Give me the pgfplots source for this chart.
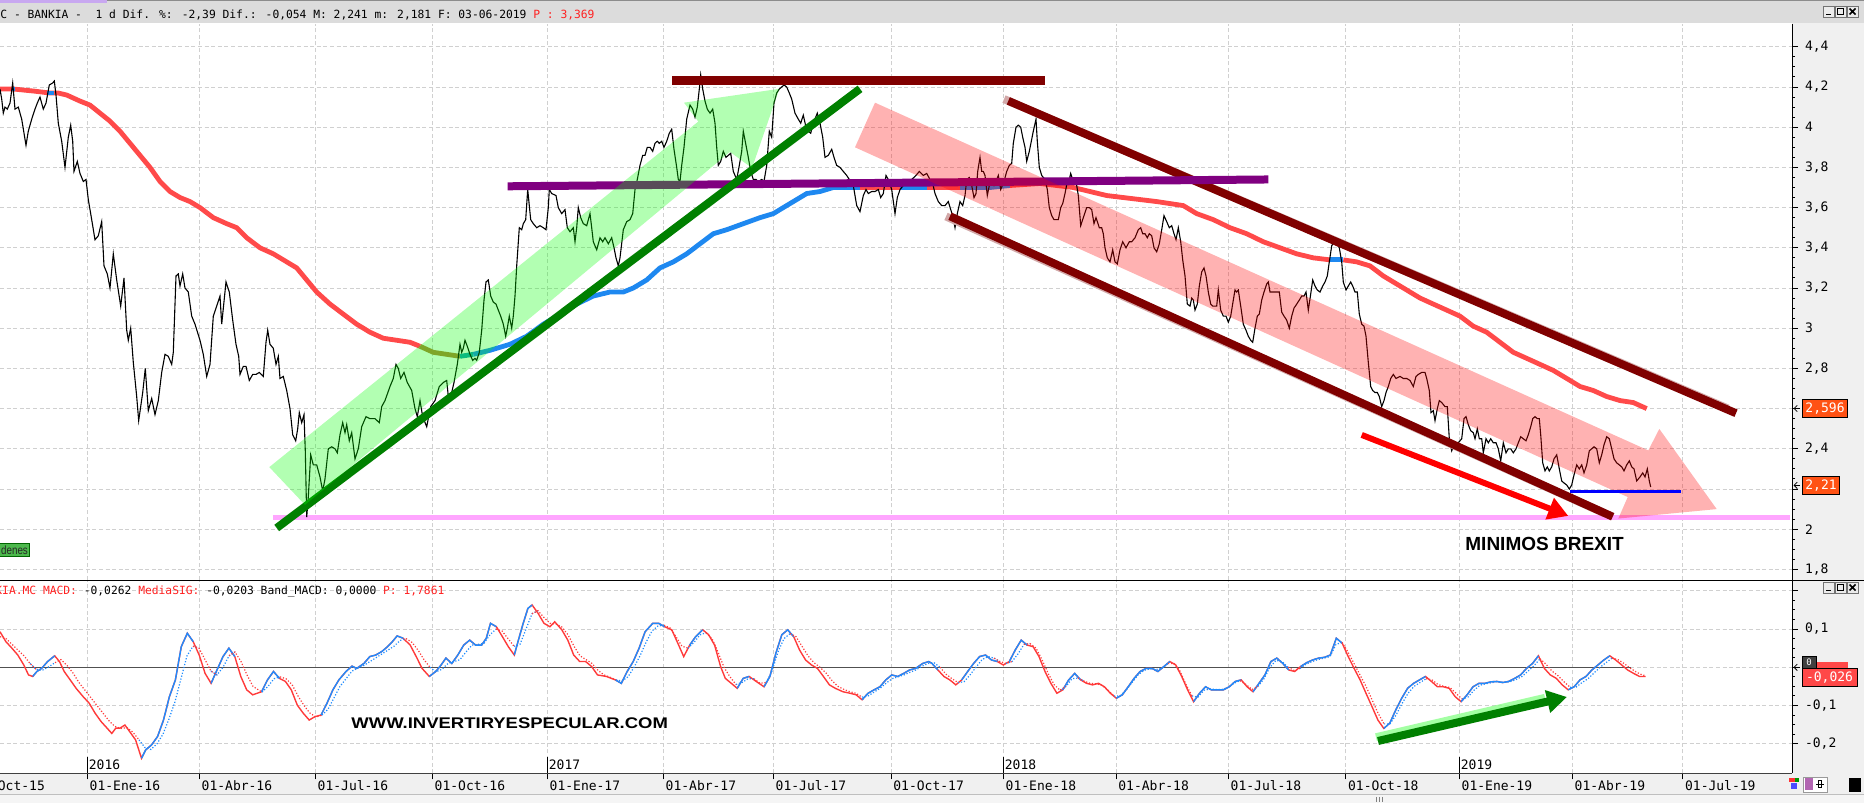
\documentclass[border=0pt]{standalone}
\usepackage{graphicx}
\usepackage{fontspec}
\setmainfont{Liberation Sans}
\newfontfamily\monof{DejaVu Sans Mono}
\usepackage{pgfplots}
\usepackage{pgfplotstable}
\pgfplotsset{compat=1.18}
\usetikzlibrary{arrows.meta}

\definecolor{gridc}{HTML}{D0D0D0}
\definecolor{panelgray}{HTML}{F0F0F0}
\definecolor{headgray}{HTML}{DCDCDC}
\definecolor{mared}{HTML}{FF4A4A}
\definecolor{mablue}{HTML}{1E88F0}
\definecolor{mabrown}{HTML}{B5803A}
\definecolor{mateal}{HTML}{12A0B4}
\definecolor{maroonc}{HTML}{800000}
\definecolor{maroonsh}{HTML}{D2A8A8}
\definecolor{purplec}{HTML}{800080}
\definecolor{darkgreen}{HTML}{008000}
\definecolor{pinkline}{HTML}{FFA6FF}
\definecolor{tagorange}{HTML}{FF5214}
\definecolor{tagred}{HTML}{FF4848}
\definecolor{macdred}{HTML}{FF3A3A}
\definecolor{macdblue}{HTML}{1E8CFF}
\definecolor{hdrred}{HTML}{FF2020}
\definecolor{lav}{HTML}{C8A8F0}
\definecolor{lblgreen}{HTML}{4CB84C}
\definecolor{zeroc}{HTML}{505050}

\newcommand\tickfont{\monof\fontsize{6.5pt}{7pt}\selectfont}
\newcommand\hdrfont{\monof\fontsize{5.65pt}{6.5pt}\selectfont}

% BANKIA close price (x = horizontal position on the chart's time scale)
\pgfplotstableread{
x y
0 4.19
1.7 4.14
3.3 4.07
5 4.10
7.3 4.09
10 4.12
12.7 4.22
15 4.09
18.3 4.10
21.7 4.04
26 3.91
28.3 3.98
31.7 4.04
35 4.09
37.3 4.12
40 4.15
43.3 4.09
46 4.12
49.3 4.21
52.7 4.22
54.3 4.23
56 4.16
58.3 4.02
61.7 3.93
65 3.80
68.3 3.95
70.7 4.01
72.7 3.93
74 3.78
77.3 3.83
80 3.77
83.3 3.73
86 3.74
88.3 3.64
91.7 3.54
95 3.44
98.3 3.46
101.7 3.53
104 3.31
107.3 3.27
110 3.20
113.3 3.37
116.7 3.24
120.7 3.11
124 3.25
126.7 2.99
128.3 2.94
130.7 3.00
133.3 2.83
136.7 2.66
138.7 2.54
142.7 2.68
145.3 2.80
148.3 2.59
151.7 2.65
155 2.57
158.3 2.64
161.7 2.78
165 2.87
168.3 2.86
171.7 2.82
173.3 2.88
176 3.26
178.3 3.27
180 3.21
182.7 3.27
185 3.20
188.3 3.18
191.7 3.06
195 3.02
200 2.94
203.3 2.87
206.7 2.76
210 2.82
213.3 3.06
216.7 3.11
220 3.16
221.7 3.02
226 3.23
229.3 3.18
232.7 3.04
236 2.92
238.7 2.86
240 2.77
243.3 2.81
246 2.81
249.3 2.74
252.7 2.77
256 2.77
259.3 2.78
263.3 2.76
266 2.93
267.7 2.99
270 2.92
273.3 2.90
276 2.82
278.3 2.86
280 2.75
283.3 2.76
286.7 2.69
290 2.60
292.7 2.47
295.7 2.44
297.7 2.50
299.3 2.58
301.7 2.53
304 2.57
305.3 2.39
306.7 2.06
308.3 2.16
310.7 2.37
313.3 2.32
316.7 2.32
320 2.26
322.7 2.19
325 2.25
328.3 2.40
331.7 2.41
335 2.40
337.3 2.38
340 2.47
342.7 2.53
345 2.48
346.7 2.52
349.3 2.44
351.7 2.48
355 2.35
358.3 2.40
361.7 2.51
366 2.56
370 2.55
375 2.55
379.3 2.53
381.7 2.61
385 2.64
390 2.71
393.3 2.75
396 2.82
398.3 2.80
400.7 2.75
404 2.78
407.3 2.73
411.7 2.69
415 2.60
417.3 2.56
420 2.64
422.7 2.56
426.7 2.51
430.7 2.61
435 2.64
439.3 2.71
443.3 2.73
446.7 2.74
448.3 2.66
451.7 2.68
454 2.73
457.3 2.82
460 2.92
461.7 2.88
463.3 2.90
465 2.94
467.3 2.91
470 2.87
472.7 2.84
475 2.85
476.7 2.84
479.3 2.88
481.7 2.99
484 3.14
486 3.23
488.3 3.24
490.7 3.16
493.3 3.13
496 3.12
498.3 3.09
500.7 3.06
503.3 3.02
505.7 2.96
507.3 3.00
509.3 3.06
511.7 3.00
513.3 3.06
515 3.16
516.7 3.31
519.3 3.50
521.7 3.49
523.3 3.52
525.7 3.54
527.7 3.69
529.3 3.61
530.7 3.54
533.3 3.52
536.7 3.50
540 3.51
543.3 3.50
546 3.49
548.3 3.60
549.3 3.69
551.7 3.67
556 3.66
558.3 3.60
561.7 3.57
565 3.59
567.3 3.50
570 3.48
573.3 3.50
575 3.43
576.7 3.50
578.3 3.60
580.7 3.55
583.3 3.52
586.7 3.51
590 3.57
591.7 3.50
593.3 3.43
596.7 3.39
600 3.45
602.7 3.43
605 3.45
608.3 3.42
611.7 3.45
614 3.40
616 3.35
618.3 3.31
620 3.35
623.3 3.49
626.7 3.53
630 3.54
632.7 3.57
635 3.69
637.3 3.74
640 3.81
642.7 3.86
645 3.86
647.3 3.90
650 3.90
652.7 3.88
655 3.92
657.3 3.93
659.3 3.92
661.7 3.93
664 3.90
666.7 3.93
669.3 3.97
671.7 3.99
674 3.89
676.7 3.80
678.3 3.74
680 3.73
681.7 3.81
684 3.90
686.7 4.04
690 4.11
692.7 4.09
695 4.05
697.3 4.10
699.3 4.19
700.7 4.26
702.7 4.19
705 4.13
707.3 4.09
710 4.07
712.7 4.09
715 4.02
716.7 3.90
718.3 3.81
720.7 3.83
723.3 3.88
726 3.85
728.3 3.86
730.7 3.87
733.3 3.78
736.7 3.74
739.3 3.81
741.7 3.88
743.3 3.98
746 3.91
748.3 3.85
750.7 3.78
753.3 3.74
756 3.74
758.3 3.73
761.7 3.74
764 3.73
766.7 3.81
769.3 3.98
771.7 3.95
774 4.12
776.7 4.17
779.3 4.19
781.7 4.20
784 4.21
786.7 4.20
789.3 4.17
791.7 4.14
795 4.07
798.3 4.04
800.7 4.02
803.3 4.06
806 4.00
808.3 3.98
810.7 3.97
813.3 4.02
817.3 4.07
820 4.02
822.7 3.95
825 3.85
828.3 3.86
831.7 3.89
834 3.85
836.7 3.81
840 3.80
843.3 3.78
846.7 3.76
850.7 3.73
853.3 3.71
856.7 3.61
860 3.58
863.3 3.66
866 3.69
868.3 3.67
871.7 3.68
875 3.68
878.3 3.69
880.7 3.65
883.3 3.67
886 3.76
888.3 3.74
891.7 3.69
895 3.57
897.3 3.65
900 3.69
903.3 3.71
906.7 3.73
911.7 3.74
916 3.76
919.3 3.78
923.3 3.76
926.7 3.77
930 3.74
932.7 3.72
935 3.67
938.3 3.63
941.7 3.61
945 3.61
948.3 3.63
950.7 3.59
952.7 3.56
955 3.50
957.3 3.57
960 3.63
962.7 3.61
965 3.66
966.7 3.74
969.3 3.75
971.7 3.71
974 3.65
976 3.67
977.7 3.78
980 3.85
981.7 3.78
983.3 3.78
985 3.76
987.3 3.66
989.3 3.71
991.7 3.73
994 3.71
996 3.73
998.3 3.76
1000.7 3.69
1004 3.73
1006.7 3.78
1009.3 3.81
1011.7 3.82
1013.3 3.92
1016 4.00
1018.3 4.01
1020.7 4.00
1022.7 3.95
1025 3.90
1026.7 3.83
1029.3 3.88
1031.7 3.94
1033.3 3.98
1036 4.04
1037.3 3.93
1039.3 3.80
1041.7 3.76
1045 3.74
1047.3 3.69
1049.3 3.60
1051.7 3.56
1054 3.54
1056 3.54
1058.3 3.54
1060.7 3.60
1062.7 3.62
1065 3.67
1067.3 3.73
1069.3 3.74
1070.7 3.77
1072.7 3.74
1075 3.73
1076.7 3.71
1078.3 3.66
1080.7 3.51
1083.3 3.55
1086.7 3.60
1089.3 3.60
1091.7 3.59
1094 3.52
1096 3.55
1099.3 3.50
1101.7 3.50
1103.3 3.47
1105 3.40
1107.3 3.35
1110 3.33
1112.7 3.39
1115 3.33
1117.3 3.32
1120 3.39
1122.7 3.43
1126 3.40
1129.3 3.43
1131.7 3.43
1135 3.45
1138.3 3.49
1140.7 3.50
1142.7 3.47
1145 3.47
1147.3 3.45
1149.3 3.47
1151.7 3.46
1154 3.40
1156.7 3.38
1159.3 3.42
1161.7 3.49
1164 3.56
1166.7 3.53
1169.3 3.50
1171.7 3.51
1174 3.47
1176 3.44
1178.3 3.50
1180.7 3.43
1182.7 3.34
1185 3.26
1187.3 3.12
1190 3.11
1191.7 3.15
1193.3 3.14
1195 3.09
1197.3 3.12
1199.3 3.21
1201.7 3.28
1204 3.30
1206 3.26
1208.3 3.18
1210.7 3.12
1212.7 3.11
1215 3.11
1216.7 3.11
1218.3 3.19
1220.7 3.09
1223.3 3.06
1226 3.06
1228.3 3.03
1230.7 3.06
1233.3 3.14
1235 3.19
1236.7 3.18
1238.3 3.19
1240.7 3.11
1243.3 3.02
1246 2.99
1248.3 2.96
1250.7 2.94
1252.7 2.93
1255 3.00
1257.3 3.06
1259.3 3.07
1261.7 3.14
1264 3.18
1266.7 3.22
1268.3 3.23
1270 3.18
1273.3 3.18
1276.7 3.18
1279.3 3.18
1281.7 3.08
1284 3.06
1286.7 3.04
1289.3 3.00
1291.7 3.06
1294 3.10
1296.7 3.12
1299.3 3.14
1301.7 3.16
1304 3.16
1306 3.18
1308.3 3.09
1310.7 3.17
1312.7 3.24
1315 3.21
1317.3 3.19
1320 3.18
1322.7 3.21
1325 3.23
1327.3 3.26
1329.3 3.33
1331.7 3.41
1334 3.43
1336.7 3.42
1339.3 3.40
1341.7 3.33
1343.3 3.23
1346 3.19
1348.3 3.21
1350.7 3.23
1352.7 3.21
1355 3.18
1357.3 3.18
1359.3 3.07
1361.7 3.02
1364 3.01
1366 2.96
1368.3 2.83
1370.7 2.71
1372.7 2.69
1375 2.68
1377.3 2.68
1379.3 2.66
1381.7 2.61
1384 2.64
1386 2.68
1388.3 2.71
1390.7 2.75
1393.3 2.77
1396 2.75
1400 2.76
1403.3 2.75
1406.7 2.75
1410 2.74
1413.3 2.71
1416 2.76
1418.3 2.77
1421.7 2.78
1425 2.78
1426.7 2.75
1429.3 2.69
1431 2.58
1433.3 2.59
1435 2.54
1437.3 2.60
1439.3 2.64
1441.7 2.63
1445 2.61
1447.3 2.61
1449.3 2.45
1451.7 2.39
1455 2.43
1458.3 2.43
1461.7 2.45
1464 2.55
1466 2.56
1468.3 2.52
1470.7 2.49
1473.3 2.48
1475 2.45
1477.3 2.50
1479.3 2.45
1481.7 2.45
1483.3 2.38
1486 2.45
1488.3 2.43
1490.7 2.45
1493.3 2.43
1496 2.43
1498.3 2.40
1500.7 2.34
1503.3 2.43
1506 2.38
1508.3 2.40
1510.7 2.40
1513.3 2.38
1516 2.40
1518.3 2.43
1520.7 2.46
1523.3 2.45
1526 2.44
1528.3 2.47
1530.7 2.51
1532.7 2.55
1535 2.56
1537.3 2.55
1539.3 2.55
1540.7 2.47
1542.7 2.33
1545 2.29
1547.3 2.31
1549.3 2.29
1551.7 2.31
1554 2.35
1556.7 2.37
1559.3 2.30
1561.7 2.24
1564 2.23
1566.7 2.22
1569.3 2.20
1571.7 2.22
1574 2.27
1576.7 2.32
1579.3 2.30
1581.7 2.32
1584 2.28
1586.7 2.32
1589.3 2.39
1591.7 2.40
1594 2.41
1596.7 2.40
1599.3 2.33
1601.7 2.37
1604 2.42
1606.7 2.46
1609.3 2.45
1611.7 2.40
1614 2.35
1616.7 2.33
1619.3 2.32
1621.7 2.31
1624 2.29
1626.7 2.32
1629.3 2.34
1631.7 2.31
1634 2.30
1636.7 2.24
1640 2.26
1642.7 2.28
1645 2.26
1647.3 2.30
1649.3 2.24
1650.7 2.21
}\pricedata

% moving average
\pgfplotstableread{
x y
0 4.19
13.3 4.19
33.3 4.18
50 4.17
58.3 4.17
66.7 4.16
80 4.13
90 4.11
100 4.07
110 4.03
120 3.98
130 3.92
140 3.86
150 3.80
160 3.73
170 3.68
180 3.65
190 3.63
200 3.60
213.3 3.55
226.7 3.52
236.7 3.50
246.7 3.45
260 3.40
273.3 3.37
286.7 3.33
296.7 3.30
306.7 3.24
316.7 3.18
330 3.12
343.3 3.07
356.7 3.02
370 2.98
383.3 2.95
396.7 2.94
410 2.93
420 2.91
433.3 2.88
446.7 2.87
460 2.86
473.3 2.87
490 2.89
510 2.92
526.7 2.96
543.3 3.02
560 3.07
576.7 3.12
593.3 3.16
610 3.18
623.3 3.18
633.3 3.20
646.7 3.24
660 3.30
673.3 3.33
686.7 3.37
700 3.42
713.3 3.47
726.7 3.49
743.3 3.52
760 3.55
773.3 3.57
783.3 3.60
793.3 3.63
806.7 3.67
820 3.68
833.3 3.70
846.7 3.70
860 3.70
880 3.70
900 3.70
926.7 3.70
960 3.70
990 3.70
1010 3.71
1040 3.72
1073.3 3.70
1090 3.68
1106.7 3.66
1123.3 3.65
1140 3.64
1156.7 3.63
1170 3.62
1183.3 3.61
1196.7 3.57
1213.3 3.54
1230 3.50
1246.7 3.47
1263.3 3.43
1280 3.40
1296.7 3.37
1313.3 3.35
1330 3.34
1343.3 3.34
1356.7 3.33
1370 3.31
1383.3 3.26
1396.7 3.22
1410 3.18
1420 3.15
1433.3 3.12
1446.7 3.09
1460 3.06
1473.3 3.01
1486.7 2.98
1500 2.93
1513.3 2.88
1526.7 2.85
1540 2.82
1553.3 2.79
1566.7 2.75
1580 2.71
1593.3 2.69
1606.7 2.66
1620 2.64
1633.3 2.63
1646.7 2.60
}\madata

% MACD
\pgfplotstableread{
x y
0 0.093
5.9 0.067
11.9 0.050
17.8 0.032
23.8 0.006
28.5 -0.020
32.7 -0.024
36.9 -0.011
41.6 -0.003
47.6 0.015
54.7 0.030
59.5 0.015
64.2 -0.011
70.2 -0.033
76.1 -0.055
83.2 -0.077
89.2 -0.094
95.1 -0.120
101.1 -0.142
107 -0.159
111.8 -0.173
115.9 -0.159
120.1 -0.159
124.9 -0.151
129.6 -0.168
135.6 -0.190
141.5 -0.238
145.7 -0.216
151.6 -0.203
157.6 -0.181
163.5 -0.138
169.4 -0.077
175.4 -0.033
181.3 0.054
187.3 0.089
193.2 0.067
199.2 0.032
205.1 -0.016
211.1 -0.042
217 -0.007
223 0.028
228.9 0.050
234.8 0.028
240.8 -0.024
246.7 -0.059
252.7 -0.072
261.6 -0.064
267.5 -0.033
273.5 -0.011
279.4 -0.029
285.4 -0.037
291.3 -0.059
297.3 -0.099
303.2 -0.120
309.2 -0.138
315.1 -0.129
321 -0.125
327 -0.094
332.9 -0.059
338.9 -0.033
346 -0.011
352 0.003
356.7 -0.003
363.9 0.010
369.8 0.028
375.7 0.032
381.7 0.041
387.6 0.054
392.4 0.067
397.1 0.082
403.1 0.076
410.2 0.058
416.2 0.028
422.1 -0.003
429.3 -0.024
435.8 -0.011
441.1 0.006
445.9 0.024
451.8 0.010
457.8 0.032
463.7 0.058
469.7 0.071
475.6 0.058
481.6 0.058
486.3 0.076
490.5 0.115
496.4 0.106
502.4 0.080
508.3 0.054
514.3 0.032
518.4 0.071
523.2 0.115
527.9 0.154
532.1 0.163
538.1 0.141
544 0.115
549.9 0.106
554.7 0.119
561.8 0.098
567.8 0.071
573.7 0.032
579.7 0.015
585.6 0.015
591.6 0.002
597.5 -0.020
606.4 -0.024
615.3 -0.033
621.3 -0.042
627.2 -0.011
633.2 0.015
639.1 0.050
645.1 0.093
652.8 0.115
658.7 0.115
664.7 0.106
671.8 0.098
677.8 0.063
683.7 0.028
689.7 0.058
695.6 0.080
702.7 0.098
708.7 0.085
714.6 0.058
720.6 0.002
725.3 -0.029
731.3 -0.042
737.2 -0.055
743.2 -0.029
749.1 -0.024
756.2 -0.037
764 -0.051
769.9 -0.024
775.9 0.037
781.8 0.085
787.7 0.098
793.7 0.080
799.6 0.045
805.6 0.019
811.5 0.006
817.5 -0.003
823.4 -0.024
829.4 -0.046
835.3 -0.055
843 -0.064
850.2 -0.068
856.1 -0.072
862.1 -0.085
868 -0.068
874 -0.059
879.9 -0.051
885.8 -0.033
891.8 -0.020
897.7 -0.024
903.7 -0.016
909.6 -0.007
915.6 -0.003
922.7 0.010
928.7 0.015
932 0.010
937.9 -0.007
943.9 -0.024
949.8 -0.033
955.8 -0.046
961.7 -0.033
967.7 -0.011
973.6 0.010
979.6 0.028
985.5 0.032
991.5 0.019
997.4 0.015
1003.3 0.006
1009.3 0.015
1015.2 0.045
1021.2 0.071
1027.1 0.058
1033.1 0.054
1039 0.028
1045 -0.011
1050.9 -0.042
1056.9 -0.068
1062.8 -0.059
1068.7 -0.033
1074.7 -0.016
1080.6 -0.033
1086.6 -0.042
1092.5 -0.046
1098.5 -0.042
1104.4 -0.051
1110.4 -0.068
1116.3 -0.081
1122.3 -0.072
1128.2 -0.051
1134.1 -0.029
1140.1 -0.011
1146 -0.003
1152 -0.003
1157.9 -0.011
1163.9 0.002
1169.8 0.015
1175.8 0.006
1181.7 -0.024
1187.6 -0.059
1193.6 -0.090
1199.5 -0.068
1205.5 -0.051
1211.4 -0.059
1217.4 -0.059
1223.3 -0.059
1229.3 -0.051
1235.2 -0.037
1241.2 -0.033
1247.1 -0.051
1253 -0.064
1259 -0.042
1264.9 -0.020
1270.9 0.015
1276.8 0.024
1282.8 0.010
1288.7 -0.007
1294.7 -0.011
1300.6 0.002
1306.6 0.012
1312.5 0.019
1318.5 0.024
1324.4 0.026
1330.3 0.032
1336.3 0.076
1342.2 0.063
1348.2 0.028
1354.1 -0.003
1360.1 -0.033
1366 -0.068
1372 -0.103
1377.9 -0.138
1383.8 -0.160
1389.8 -0.146
1395.7 -0.112
1401.7 -0.081
1407.6 -0.055
1413.6 -0.042
1419.5 -0.033
1425.5 -0.024
1431.4 -0.037
1437.4 -0.051
1443.3 -0.051
1449.2 -0.055
1455.2 -0.077
1461.1 -0.090
1467.1 -0.072
1473 -0.051
1479 -0.042
1484.9 -0.042
1490.9 -0.038
1496.8 -0.037
1502.7 -0.040
1508.7 -0.037
1514.6 -0.029
1520.6 -0.020
1526.5 -0.003
1532.5 0.010
1538.4 0.030
1544.4 -0.003
1550.3 -0.020
1556.3 -0.029
1562.2 -0.046
1568.2 -0.059
1574.1 -0.051
1580 -0.033
1586 -0.024
1591.9 -0.007
1597.9 0.006
1603.8 0.019
1609.8 0.030
1615.7 0.019
1621.7 0.006
1627.6 -0.007
1633.6 -0.016
1639.5 -0.024
1645.5 -0.024
}\macddata

% signal (MediaSIG)
\pgfplotstableread{
x y
0 0.080
6 0.075
12 0.060
18 0.045
24 0.030
30 0.010
36 -0.005
42 -0.008
48 0.000
55 0.012
61 0.020
67 0.005
73 -0.015
79 -0.040
85 -0.060
91 -0.080
97 -0.100
103 -0.120
109 -0.140
115 -0.155
121 -0.160
127 -0.158
133 -0.170
139 -0.190
145 -0.210
151 -0.215
157 -0.200
163 -0.175
169 -0.135
175 -0.090
181 -0.030
187 0.030
193 0.055
199 0.050
205 0.020
211 -0.010
217 -0.020
223 0.000
229 0.030
235 0.040
241 0.015
247 -0.020
253 -0.050
262 -0.065
268 -0.050
274 -0.030
280 -0.025
286 -0.030
292 -0.045
298 -0.075
304 -0.100
310 -0.120
316 -0.130
322 -0.125
328 -0.110
334 -0.080
340 -0.050
346 -0.030
352 -0.010
358 -0.002
364 0.005
370 0.015
376 0.025
382 0.035
388 0.045
394 0.055
400 0.070
406 0.075
412 0.065
418 0.045
424 0.020
430 0.000
436 -0.012
442 -0.005
448 0.010
454 0.015
460 0.020
466 0.040
472 0.058
478 0.060
484 0.063
490 0.085
496 0.100
502 0.095
508 0.075
514 0.055
520 0.060
526 0.100
532 0.140
538 0.148
544 0.130
550 0.115
556 0.113
562 0.105
568 0.085
574 0.055
580 0.030
586 0.020
592 0.010
598 -0.008
604 -0.020
610 -0.026
616 -0.033
622 -0.036
628 -0.025
634 0.000
640 0.030
646 0.065
652 0.095
658 0.108
664 0.110
670 0.103
676 0.080
682 0.055
688 0.050
694 0.065
700 0.085
706 0.090
712 0.075
718 0.040
724 0.000
730 -0.025
736 -0.045
742 -0.040
748 -0.030
754 -0.030
760 -0.042
766 -0.040
772 -0.010
778 0.040
784 0.075
790 0.088
796 0.080
802 0.055
808 0.030
814 0.012
820 0.000
826 -0.015
832 -0.035
838 -0.050
844 -0.058
850 -0.064
856 -0.068
862 -0.078
868 -0.075
874 -0.065
880 -0.055
886 -0.042
892 -0.030
898 -0.025
904 -0.020
910 -0.013
916 -0.007
922 0.003
928 0.010
934 0.012
940 0.000
946 -0.018
952 -0.030
958 -0.040
964 -0.038
970 -0.020
976 0.000
982 0.020
988 0.028
994 0.024
1000 0.015
1006 0.010
1012 0.015
1018 0.035
1024 0.060
1030 0.062
1036 0.050
1042 0.020
1048 -0.015
1054 -0.045
1060 -0.060
1066 -0.050
1072 -0.030
1078 -0.028
1084 -0.036
1090 -0.042
1096 -0.043
1102 -0.047
1108 -0.060
1114 -0.075
1120 -0.075
1126 -0.060
1132 -0.040
1138 -0.020
1144 -0.008
1150 -0.004
1156 -0.006
1162 -0.002
1168 0.010
1174 0.010
1180 -0.010
1186 -0.045
1192 -0.075
1198 -0.078
1204 -0.060
1210 -0.057
1216 -0.058
1222 -0.058
1228 -0.053
1234 -0.042
1240 -0.035
1246 -0.045
1252 -0.058
1258 -0.050
1264 -0.030
1270 0.000
1276 0.018
1282 0.015
1288 0.000
1294 -0.008
1300 -0.003
1306 0.008
1312 0.015
1318 0.020
1324 0.024
1330 0.028
1336 0.060
1342 0.065
1348 0.040
1354 0.010
1360 -0.020
1366 -0.050
1372 -0.085
1378 -0.120
1384 -0.148
1390 -0.148
1396 -0.125
1402 -0.095
1408 -0.068
1414 -0.050
1420 -0.040
1426 -0.030
1432 -0.033
1438 -0.045
1444 -0.050
1450 -0.053
1456 -0.068
1462 -0.083
1468 -0.078
1474 -0.060
1480 -0.047
1486 -0.043
1492 -0.040
1498 -0.038
1504 -0.039
1510 -0.038
1516 -0.032
1522 -0.024
1528 -0.010
1534 0.004
1540 0.022
1546 0.008
1552 -0.010
1558 -0.022
1564 -0.038
1570 -0.052
1576 -0.052
1582 -0.040
1588 -0.030
1594 -0.015
1600 0.000
1606 0.012
1612 0.024
1618 0.020
1624 0.010
1630 -0.002
1636 -0.012
1642 -0.020
1646 -0.022
}\sigdata

\pgfplotsset{
  chartbase/.style={
    anchor=south west, scale only axis, width=896pt,
    xmin=0, xmax=1792,
    axis line style={draw=none},
    xtick={87.3,199.3,315.3,432.3,547.3,663.3,773.3,891,1003.3,1116,1228.3,1345.7,1459.3,1572.3,1682.7},
    ytick pos=right, yticklabel pos=right,
    tick align=outside, major tick length=3pt, minor tick length=1.5pt,
    ytick style={black, line width=0.5pt},
    minor y tick num=3,
    grid=major,
    major grid style={draw=gridc, line width=0.5pt, dash pattern=on 2pt off 1.3pt},
    yticklabel style={font=\tickfont},
  }
}

\begin{document}
\begin{tikzpicture}
\tikzset{px/.style={shift={(0,401.5pt)},x=0.5pt,y=-0.5pt}}
\begin{scope}[px]
  \fill[white] (0,0) rectangle (1864,803);
  \fill[panelgray] (1792,0) rectangle (1864,803);
  \fill[panelgray] (0,773.3) rectangle (1864,803);
\end{scope}

% ---------------- price panel ----------------
\begin{axis}[chartbase,
  at={(0pt,111.5pt)}, height=277.75pt,
  ymin=1.7473, ymax=4.511,
  xticklabels={}, xtick style={draw=none},
  ytick={1.8,2,2.2,2.4,2.6,2.8,3,3.2,3.4,3.6,3.8,4,4.2,4.4},
  yticklabels={{1,8},{2},{},{2,4},{},{2,8},{3},{3,2},{3,4},{3,6},{3,8},{4},{4,2},{4,4}},
]
  \addplot[pinkline, line width=2.5pt] coordinates {(273,2.058) (1790,2.058)};
  % 200-session average, coloured by trend
  \addplot[mared, line width=2.4pt, restrict x to domain=0:422] table {\madata};
  \addplot[mabrown, line width=2.4pt, restrict x to domain=418:462] table {\madata};
  \addplot[mateal, line width=2.4pt, restrict x to domain=458:476] table {\madata};
  \addplot[mablue, line width=2.4pt, restrict x to domain=472:1012] table {\madata};
  \addplot[mared, line width=2.4pt, restrict x to domain=858:901] table {\madata};
  \addplot[mared, line width=2.4pt, restrict x to domain=925:961] table {\madata};
  \addplot[mared, line width=2.4pt, restrict x to domain=1008:1332] table {\madata};
  \addplot[mablue, line width=2.4pt, restrict x to domain=1328:1345] table {\madata};
  \addplot[mared, line width=2.4pt, restrict x to domain=1341:1647] table {\madata};
  \addplot[mablue, line width=2.4pt] coordinates {(11.5,4.19) (14.5,4.19)};
  \addplot[mablue, line width=2.4pt] coordinates {(47,4.17) (53.5,4.17)};
  % price
  \addplot[black, line width=0.55pt] table {\pricedata};
  % trend lines
  \addplot[maroonc, line width=4.8pt] coordinates {(672.3,4.232) (1045,4.232)};
  \addplot[maroonsh, line width=4pt] coordinates {(1004,4.140) (1728,2.600)};
  \addplot[maroonc, line width=4pt] coordinates {(1008.3,4.131) (1736,2.577)};
  \addplot[maroonsh, line width=4pt] coordinates {(946,3.556) (1605,2.078)};
  \addplot[maroonc, line width=4pt] coordinates {(950,3.557) (1612.7,2.062)};
  \addplot[purplec, line width=4pt] coordinates {(507.7,3.706) (1268.3,3.740)};
  \addplot[darkgreen, line width=4pt] coordinates {(276.7,2.006) (860,4.191)};
  % shaded arrows
  \fill[green, fill opacity=0.3] (axis cs:269.3,2.309) -- (axis cs:698.3,4.028) -- (axis cs:684,4.122) -- (axis cs:779.3,4.191) -- (axis cs:752,3.797) -- (axis cs:730,3.877) -- (axis cs:305,2.121) -- cycle;
  \fill[red, fill opacity=0.3] (axis cs:875,4.122) -- (axis cs:1648.3,2.392) -- (axis cs:1659.3,2.499) -- (axis cs:1716.7,2.100) -- (axis cs:1618.3,2.053) -- (axis cs:1627.7,2.160) -- (axis cs:855,3.900) -- cycle;
  \draw[red, line width=3pt, -{Triangle[length=10pt,width=11pt]}] (axis cs:1361.7,2.469) -- (axis cs:1568.3,2.066);
  \addplot[blue, line width=1.5pt] coordinates {(1570,2.19) (1680.7,2.19)};
\end{axis}

% ---------------- MACD panel ----------------
\begin{axis}[chartbase,
  at={(0pt,14.85pt)}, height=96.65pt,
  ymin=-0.2773, ymax=0.2283,
  xticklabels={01-Ene-16,01-Abr-16,01-Jul-16,01-Oct-16,01-Ene-17,01-Abr-17,01-Jul-17,01-Oct-17,01-Ene-18,01-Abr-18,01-Jul-18,01-Oct-18,01-Ene-19,01-Abr-19,01-Jul-19},
  xtick pos=bottom,
  xtick style={black, line width=0.5pt},
  xticklabel style={font=\tickfont, anchor=west, inner sep=0pt, xshift=1pt, yshift=-3pt},
  ytick={-0.2,-0.1,0,0.1,0.2},
  yticklabels={{-0,2},{-0,1},{},{0,1},{}},
]
  \addplot[zeroc, line width=0.75pt] coordinates {(0,0) (1631,0)};
  \addplot[macdred, line width=0.7pt] table {\macddata};
  \pgfplotsinvokeforeach{30:58,138:199,211:235,259:282,318:407,428:499,509:538,615:666,684:708,734:755,764:794,859:941,956:1000,1006:1030,1060:1084,1113:1173,1188:1244,1253:1289,1295:1345,1381:1428,1458:1541,1568:1613}{
    \addplot[macdblue, line width=0.7pt, restrict x to domain=#1] table {\macddata};
    \addplot[macdblue, line width=0.6pt, dash pattern=on 0.6pt off 0.9pt, restrict x to domain=#1] table {\sigdata};
  }
  \pgfplotsinvokeforeach{0:36,52:144,193:217,229:265,276:324,401:434,493:515,532:621,660:690,702:740,749:770,788:865,935:962,994:1012,1024:1066,1078:1119,1167:1194,1238:1259,1283:1301,1339:1387,1422:1464,1535:1574,1607:1647}{
    \addplot[macdred, line width=0.6pt, dash pattern=on 0.6pt off 0.9pt, restrict x to domain=#1] table {\sigdata};
  }
  \draw[green!45!white, line width=4pt, opacity=0.8] (axis cs:1376,-0.1830) -- (axis cs:1545,-0.0800);
  \draw[darkgreen, line width=4pt, -{Triangle[length=10pt,width=11pt]}] (axis cs:1378,-0.1928) -- (axis cs:1567,-0.0777);
\end{axis}

% ---------------- frame, header, labels ----------------
\begin{scope}[px]
  \draw[black, line width=0.6pt] (1792.3,24) -- (1792.3,773.3);
  \draw[black, line width=0.8pt] (0,580.5) -- (1864,580.5);
  \draw[black!75, line width=0.8pt] (0,773.6) -- (1792.3,773.6);
  % header
  \fill[headgray] (0,0) rectangle (1864,23.5);
  \fill[lav] (0,0) rectangle (107,3);
  \draw[black!45, line width=0.5pt] (107,1) -- (1864,1);
  \node[anchor=west, inner sep=0pt, font=\hdrfont] at (0,15.2)
    {C - BANKIA - \ 1 d Dif. \%: -2,39 Dif.: -0,054 M: 2,241 m: 2,181 F: 03-06-2019 {\color{hdrred}P : 3,369}};
  \node[anchor=west, inner sep=0pt, font=\hdrfont] at (-5,592)
    {{\color{hdrred}KIA.MC MACD:} -0,0262 {\color{hdrred}MediaSIG:} -0,0203 Band\_MACD: 0,0000 {\color{hdrred}P: 1,7861}};
  % window buttons
  \foreach \yy in {6,582} {
    \foreach \xx in {1823,1835,1847} {
      \draw[black!55, fill=black!8, line width=0.4pt] (\xx,\yy) rectangle (\xx+11,\yy+11);
    }
    \draw[black, line width=0.8pt] (1826,\yy+8.5) -- (1831,\yy+8.5);
    \draw[black, line width=0.6pt] (1837.5,\yy+2.5) rectangle (1843.5,\yy+8.5);
    \draw[black, line width=0.8pt] (1849.5,\yy+2.5) -- (1855.5,\yy+8.5) (1849.5,\yy+8.5) -- (1855.5,\yy+2.5);
  }
  % value tags
  \draw[black, line width=0.4pt, fill=tagorange] (1802.7,399.5) rectangle (1847.3,417.5);
  \node[white, font=\tickfont, inner sep=0pt] at (1825,408.5) {2,596};
  \draw[black, line width=0.4pt, fill=tagorange] (1802.7,476.3) rectangle (1839.3,494.2);
  \node[white, font=\tickfont, inner sep=0pt] at (1821,485.3) {2,21};
  \draw[black, line width=0.4pt, -{Straight Barb[length=1.6pt]}] (1800,408.5) -- (1793.5,408.5);
  \draw[black, line width=0.4pt, -{Straight Barb[length=1.6pt]}] (1800,485.3) -- (1793.5,485.3);
  \fill[tagred] (1816,662.5) rectangle (1848,668);
  \draw[black, line width=0.4pt, fill=black!75] (1802,656.5) rectangle (1816,668);
  \node[white, font=\monof\fontsize{4.5pt}{5pt}\selectfont, inner sep=0pt] at (1809,662.3) {0};
  \draw[black, line width=0.4pt, fill=tagred] (1802,668) rectangle (1857,686.5);
  \node[white, font=\tickfont, inner sep=0pt] at (1829.5,677.3) {-0,026};
  \draw[black, line width=0.4pt, -{Straight Barb[length=1.6pt]}] (1800,667.3) -- (1793.5,667.3);
  % year markers
  \foreach \xx/\yy in {87.3/2016, 547.3/2017, 1003.3/2018, 1459.3/2019} {
    \draw[black, line width=0.6pt] (\xx,757) -- (\xx,773.3);
    \node[anchor=west, inner sep=0pt, font=\tickfont] at (\xx+1.2,764.5) {\yy};
  }
  \node[anchor=west, inner sep=0pt, font=\tickfont] at (-26,785.7) {01-Oct-15};
  % scrollbar and icons
  \fill[black!4] (0,794.5) rectangle (1864,803);
  \draw[black!25, line width=0.5pt] (0,794.5) -- (1864,794.5);
  \draw[black!50, line width=0.4pt] (1376,797) -- (1376,802) (1379,797) -- (1379,802) (1382,797) -- (1382,802);
  \fill[red!80] (1789,778) rectangle (1795,782);
  \fill[green!60!black] (1795,778) rectangle (1799,782);
  \fill[blue!70] (1791,783) rectangle (1797,789);
  \draw[black!40, fill=white, line width=0.3pt] (1803,777) rectangle (1827,792);
  \fill[violet!60] (1805,778.5) rectangle (1813,790.5);
  \draw[black, line width=0.5pt] (1816,784.5) -- (1824,784.5) (1818,781) rectangle (1821,788);
  \fill[black] (1849,778) rectangle (1861,792);
  % annotations text
  \node[anchor=west, inner sep=0pt, font=\bfseries\fontsize{9.5pt}{10pt}\selectfont] at (1465,543.5) {MINIMOS BREXIT};
  \node[anchor=west, inner sep=0pt] at (351,722.8) {\scalebox{1.2}[1]{\bfseries\fontsize{7.7pt}{8pt}\selectfont WWW.INVERTIRYESPECULAR.COM}};
  \draw[fill=lblgreen, draw=green!40!black, line width=0.5pt] (-3,543.5) rectangle (29.3,557);
  \node[anchor=east, inner sep=0pt, text=black!85] at (28.3,550.5) {\scalebox{0.82}[1]{\fontsize{6pt}{7pt}\selectfont denes}};
\end{scope}

\pgfresetboundingbox
\path[use as bounding box] (0,0) rectangle (932pt,401.5pt);
\end{tikzpicture}
\end{document}
